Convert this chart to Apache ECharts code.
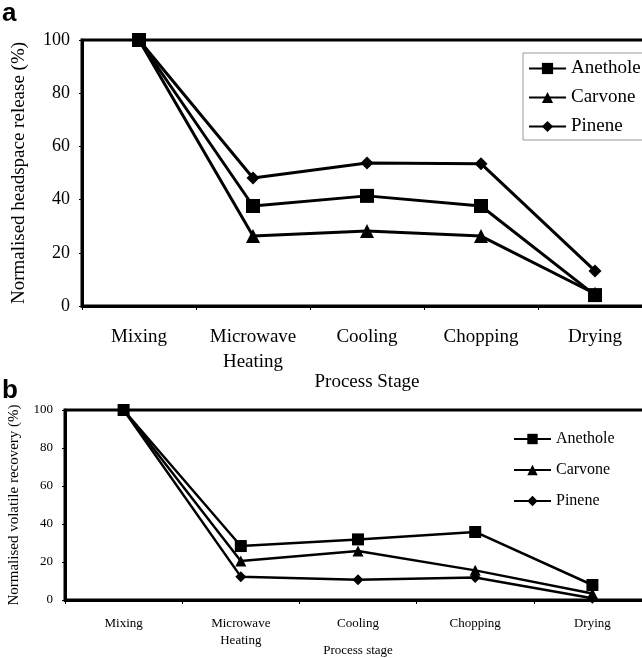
<!DOCTYPE html>
<html>
<head>
<meta charset="utf-8">
<script src="https://cdn.jsdelivr.net/npm/echarts@6/dist/echarts.min.js"></script>
<style>html,body{margin:0;padding:0;background:#fff}#c{width:642px;height:658px}</style>
</head>
<body>
<div id="c"></div>
<script>
var categories = ['Mixing', 'Microwave\nHeating', 'Cooling', 'Chopping', 'Drying'];
var yTicks = [0, 20, 40, 60, 80, 100];
// Panel a: normalised headspace release (%)
var aAnethole = [100, 37.6, 41.4, 37.6, 4.1];
var aCarvone  = [100, 26.3, 28.2, 26.3, 4.6];
var aPinene   = [100, 48.1, 53.8, 53.5, 13.2];
// Panel b: normalised volatile recovery (%)
var bAnethole = [100, 28.4, 31.9, 35.8, 7.9];
var bCarvone  = [100, 20.5, 25.8, 15.6, 3.4];
var bPinene   = [100, 12.3, 10.6, 11.8, 0.9];

var serif = 'Liberation Serif';
var chart = echarts.init(document.getElementById('c'), null, {renderer: 'canvas'});

function xAx(idx, fs, margin, lh, name, nameGap, nfs) {
  return {
    type: 'category', gridIndex: idx, data: categories, boundaryGap: true,
    axisLine: {lineStyle: {color: '#000', width: 3}},
    axisTick: {show: true, length: 4, interval: 0, lineStyle: {color: '#000', width: 1}},
    axisLabel: {color: '#000', fontFamily: serif, fontSize: fs, margin: margin, lineHeight: lh, interval: 0},
    splitLine: {show: false},
    name: name, nameLocation: 'middle', nameGap: nameGap, nameMoveOverlap: false,
    nameTextStyle: {color: '#000', fontFamily: serif, fontSize: nfs}
  };
}
function yAx(idx, fs, margin, name, nameGap, nfs) {
  return {
    type: 'value', gridIndex: idx, min: 0, max: 100, interval: 20,
    axisLine: {show: true, lineStyle: {color: '#000', width: 3}},
    axisTick: {show: true, length: 3, lineStyle: {color: '#000', width: 1}},
    axisLabel: {color: '#000', fontFamily: serif, fontSize: fs, margin: margin,
      formatter: function (v) { return yTicks.indexOf(v) >= 0 ? String(v) : ''; }},
    splitLine: {show: false},
    name: name, nameLocation: 'middle', nameRotate: 90, nameGap: nameGap, nameMoveOverlap: false,
    nameTextStyle: {color: '#000', fontFamily: serif, fontSize: nfs}
  };
}
function ser(name, data, idx, symbol, size, lw) {
  return {
    name: name, type: 'line', xAxisIndex: idx, yAxisIndex: idx, data: data,
    symbol: symbol, symbolSize: size, showSymbol: true,
    lineStyle: {color: '#000', width: lw}, itemStyle: {color: '#000'},
    animation: false
  };
}

chart.setOption({
  animation: false,
  backgroundColor: '#fff',
  grid: [
    {left: 82, top: 40, width: 570, height: 266, show: true, borderColor: '#000', borderWidth: 3,
     containLabel: false, outerBoundsMode: 'none'},
    {left: 65, top: 410, width: 586, height: 190, show: true, borderColor: '#000', borderWidth: 3,
     containLabel: false, outerBoundsMode: 'none'}
  ],
  xAxis: [
    xAx(0, 19, 19, 25, 'Process Stage', 67, 19),
    xAx(1, 13, 15, 17, 'Process stage', 44, 13)
  ],
  yAxis: [
    yAx(0, 18, 12, 'Normalised headspace release (%)', 53, 19),
    yAx(1, 13, 12, 'Normalised volatile recovery (%)', 43, 15)
  ],
  legend: [
    {orient: 'vertical', left: 523, top: 53, padding: [6, 8, 4, 5],
     borderColor: '#999', borderWidth: 1, itemWidth: 37, itemHeight: 14, itemGap: 10,
     textStyle: {color: '#000', fontFamily: serif, fontSize: 19},
     data: ['Anethole', 'Carvone', 'Pinene']},
    {orient: 'vertical', left: 513, top: 431, padding: 0,
     itemWidth: 37, itemHeight: 13, itemGap: 15,
     textStyle: {color: '#000', fontFamily: serif, fontSize: 16},
     data: ['Anethole', 'Carvone', 'Pinene']}
  ],
  graphic: [
    {type: 'text', left: 2, top: 1, style: {text: 'a', fontFamily: 'Liberation Sans', fontWeight: 'bold', fontSize: 26, fill: '#000'}},
    {type: 'text', left: 2, top: 378, style: {text: 'b', fontFamily: 'Liberation Sans', fontWeight: 'bold', fontSize: 26, fill: '#000'}}
  ],
  series: [
    ser('Anethole', aAnethole, 0, 'rect', 14, 3),
    ser('Carvone', aCarvone, 0, 'triangle', 14, 3),
    ser('Pinene', aPinene, 0, 'diamond', 13, 3),
    ser('Anethole', bAnethole, 1, 'rect', 12, 2.5),
    ser('Carvone', bCarvone, 1, 'triangle', 11, 2.5),
    ser('Pinene', bPinene, 1, 'diamond', 11, 2.5)
  ]
});
</script>
</body>
</html>
